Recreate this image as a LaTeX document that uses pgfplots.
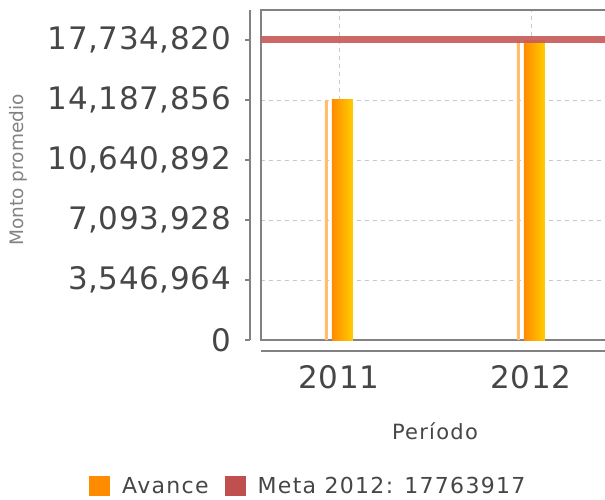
\documentclass[border=0pt]{standalone}
\usepackage{pgfplots}
\pgfplotsset{compat=1.18}
\usepackage{fontspec}
\setmainfont{DejaVu Sans}
\newfontfamily\legfont[LetterSpace=6]{DejaVu Sans}
\newfontfamily\tickfont[LetterSpace=2]{DejaVu Sans}
\definecolor{barL}{RGB}{255,140,0}
\definecolor{barR}{RGB}{255,205,0}
\definecolor{sliver}{RGB}{255,190,110}
\definecolor{meta}{RGB}{198,92,90}
\definecolor{legmeta}{RGB}{192,80,77}
\definecolor{framec}{RGB}{130,130,130}
\definecolor{tickc}{RGB}{70,70,70}
\definecolor{ylabc}{RGB}{130,130,130}
\definecolor{gridc}{RGB}{200,200,200}
\begin{document}
\begin{tikzpicture}
% main frame axis
\begin{axis}[
  scale only axis, width=350pt, height=330pt,
  xmin=2010.59375, xmax=2012.41667,
  ymin=0, ymax=19508302,
  scaled y ticks=false, scaled x ticks=false,
  xtick={2011,2012}, xticklabels={},
  ytick={3546964,7093928,10640892,14187856}, yticklabels={},
  xtick style={draw=none}, ytick style={draw=none},
  xmajorgrids, ymajorgrids,
  grid style={draw=gridc, line width=0.9pt, dash pattern=on 4pt off 4pt},
  axis line style={draw=framec, line width=1.3pt},
  xlabel={Período}, ylabel={Monto promedio},
  every axis x label/.style={at={(axis description cs:0.497,-0.276)}, anchor=center, font=\legfont\fontsize{21}{25}\selectfont, text=tickc},
  every axis y label/.style={at={(axis description cs:-0.694,0.515)}, anchor=center, rotate=90, font=\fontsize{18.5}{22}\selectfont, text=ylabc},
  legend columns=2,
  legend image code/.code={\fill[#1, draw=none] (0pt,-10pt) rectangle (21pt,10pt);},
  legend style={at={(axis description cs:0.1325,-0.443)}, anchor=center, draw=none, fill=none,
    font=\legfont\fontsize{22}{24}\selectfont, text=tickc,
    nodes={inner sep=0pt},
    /tikz/every odd column/.append style={column sep=12pt},
    /tikz/every even column/.append style={column sep=16pt}},
]
\addplot[ybar, bar width=3pt, bar shift=-12.5pt, draw=none, fill=sliver, forget plot]
  coordinates {(2011,14200000) (2012,17734820)};
\addplot[ybar, bar width=21pt, bar shift=3.5pt, draw=none, left color=barL, right color=barR, forget plot]
  coordinates {(2011,14200000)};
\addplot[ybar, bar width=21pt, bar shift=3.5pt, draw=none, left color=barL, right color=barR, forget plot]
  coordinates {(2012,17734820)};
\addplot[draw=meta, line width=7.5pt, opacity=0.92, forget plot]
  coordinates {(2010.59375,17763917) (2012.41667,17763917)};
\addlegendimage{fill=barL, draw=none}
\addlegendentry{Avance}
\addlegendimage{fill=legmeta, draw=none}
\addlegendentry{Meta 2012: 17763917}
\end{axis}
% separate y axis
\begin{axis}[
  at={(-11pt,0pt)},
  scale only axis, width=1pt, height=330pt,
  xmin=0, xmax=1, ymin=0, ymax=19508302,
  scaled y ticks=false,
  axis y line*=left, hide x axis,
  ytick={0,3546964,7093928,10640892,14187856,17734820},
  yticklabels={0,{3,546,964},{7,093,928},{10,640,892},{14,187,856},{17,734,820}},
  y axis line style={draw=framec, line width=1.3pt},
  ytick style={draw=framec, line width=1.3pt},
  tick align=outside, major tick length=5pt,
  yticklabel style={font=\tickfont\fontsize{31}{36}\selectfont, text=tickc, inner sep=0pt, xshift=-14pt},
]
\end{axis}
% separate x axis
\begin{axis}[
  at={(0pt,-11pt)},
  scale only axis, width=350pt, height=1pt,
  xmin=2010.59375, xmax=2012.41667, ymin=0, ymax=1,
  axis x line*=bottom, hide y axis,
  xtick={2011,2012}, xticklabels={2011,2012},
  xtick style={draw=none},
  x axis line style={draw=framec, line width=1.3pt},
  xticklabel style={font=\tickfont\fontsize{31}{36}\selectfont, text=tickc, inner sep=0pt, yshift=-14pt},
]
\end{axis}
\pgfresetboundingbox
\useasboundingbox (-261pt,-159pt) rectangle (344pt,340pt);
\end{tikzpicture}
\end{document}
